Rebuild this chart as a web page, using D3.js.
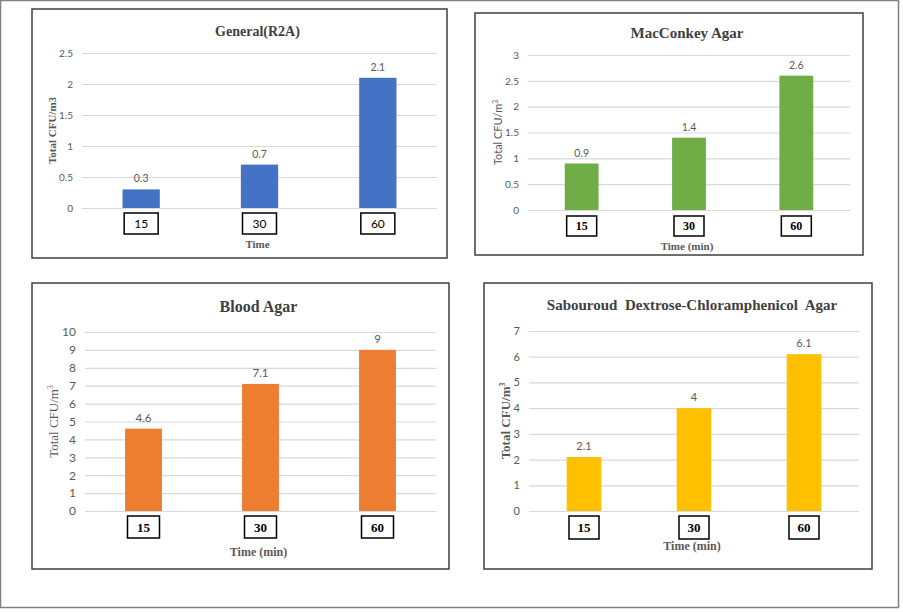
<!DOCTYPE html>
<html>
<head>
<meta charset="utf-8">
<script src="https://cdn.jsdelivr.net/npm/d3@7"></script>
<style>
  body { margin: 0; background: #fff; }
  svg { display: block; }
</style>
</head>
<body>
<div id="chart"></div>
<script>
// data
const times = ["15", "30", "60"];
const r2aValues = [0.3, 0.7, 2.1];
const macConkeyValues = [0.9, 1.4, 2.6];
const bloodValues = [4.6, 7.1, 9];
const sabouraudValues = [2.1, 4, 6.1];

const r2aTicks = [0, 0.5, 1, 1.5, 2, 2.5];
const macConkeyTicks = [0, 0.5, 1, 1.5, 2, 2.5, 3];
const bloodTicks = [0, 1, 2, 3, 4, 5, 6, 7, 8, 9, 10];
const sabouraudTicks = [0, 1, 2, 3, 4, 5, 6, 7];

const SERIF = "'Liberation Serif', 'Times New Roman', serif";
const SANS = "Lato, 'Liberation Sans', sans-serif";

const W = 903;
const H = 612;

const svg = d3
  .select("#chart")
  .append("svg")
  .attr("width", W)
  .attr("height", H);

svg
  .append("rect")
  .attr("x", 0.5)
  .attr("y", 0.5)
  .attr("width", 898)
  .attr("height", 607)
  .attr("fill", "#fff")
  .attr("stroke", "#808080")
  .attr("stroke-width", 1.5);

const panels = [
  {
    title: "General(R2A)",
    values: r2aValues,
    ticks: r2aTicks,
    color: "#4472C4",
    frame: { x: 32, y: 9, w: 415, h: 249 },
    plot: { x: 82, y: 53, w: 355, h: 155 },
    titleY: 36, titleSize: 14,
    tickSize: 10, valueSize: 10.5,
    yTitle: { text: "Total CFU/m3", sup: null, x: 56, font: SERIF, bold: true, size: 11 },
    box: { font: SANS, bold: false, size: 12, w: 34, h: 21, dy: 5 },
    xTitle: { text: "Time", y: 244, size: 11 },
  },
  {
    title: "MacConkey Agar",
    values: macConkeyValues,
    ticks: macConkeyTicks,
    color: "#70AD47",
    frame: { x: 475, y: 13, w: 388, h: 242 },
    plot: { x: 528, y: 55, w: 322, h: 155 },
    titleY: 38, titleSize: 15,
    tickSize: 10, valueSize: 10.5,
    yTitle: { text: "Total CFU/m", sup: "3", x: 502, font: SANS, bold: false, size: 11 },
    box: { font: SERIF, bold: true, size: 12, w: 30, h: 20, dy: 6 },
    xTitle: { text: "Time (min)", y: 246, size: 11 },
  },
  {
    title: "Blood Agar",
    values: bloodValues,
    ticks: bloodTicks,
    color: "#ED7D31",
    frame: { x: 32, y: 283, w: 417, h: 286 },
    plot: { x: 85, y: 332, w: 351, h: 179 },
    titleY: 312, titleSize: 16,
    tickSize: 12, valueSize: 11.5,
    yTitle: { text: "Total CFU/m", sup: "3", x: 58, font: SERIF, bold: false, size: 13 },
    box: { font: SERIF, bold: true, size: 13, w: 32, h: 22, dy: 5 },
    xTitle: { text: "Time (min)", y: 552, size: 12 },
  },
  {
    title: "Sabouroud  Dextrose-Chloramphenicol  Agar",
    values: sabouraudValues,
    ticks: sabouraudTicks,
    color: "#FFC000",
    frame: { x: 484, y: 283, w: 388, h: 286 },
    plot: { x: 529, y: 331, w: 330, h: 180 },
    titleY: 310, titleSize: 15,
    tickSize: 11, valueSize: 11,
    yTitle: { text: "Total CFU/m", sup: "3", x: 510, font: SERIF, bold: true, size: 13 },
    box: { font: SERIF, bold: true, size: 13, w: 30, h: 23, dy: 5 },
    xTitle: { text: "Time (min)", y: 546, size: 12 },
  },
];

panels.forEach(drawPanel);

function drawPanel(p) {
  const g = svg.append("g");

  g.append("rect")
    .attr("x", p.frame.x)
    .attr("y", p.frame.y)
    .attr("width", p.frame.w)
    .attr("height", p.frame.h)
    .attr("fill", "#fff")
    .attr("stroke", "#3f3f3f")
    .attr("stroke-width", 1.5);

  // title
  g.append("text")
    .attr("x", p.plot.x + p.plot.w / 2 - 2)
    .attr("y", p.titleY)
    .attr("text-anchor", "middle")
    .style("font-family", SERIF)
    .style("font-weight", "bold")
    .style("font-size", `${p.titleSize}px`)
    .style("white-space", "pre")
    .attr("fill", "#404040")
    .text(p.title);

  const x = d3
    .scaleBand()
    .domain(times)
    .range([p.plot.x, p.plot.x + p.plot.w])
    .paddingInner(0.685)
    .paddingOuter(0.3425);

  const y = d3
    .scaleLinear()
    .domain([0, d3.max(p.ticks)])
    .range([p.plot.y + p.plot.h, p.plot.y]);

  // gridlines + tick labels
  const yAxis = g
    .append("g")
    .attr("transform", `translate(${p.plot.x},0)`)
    .call(
      d3
        .axisLeft(y)
        .tickValues(p.ticks)
        .tickSize(-p.plot.w)
        .tickPadding(9)
        .tickFormat(d3.format("~g"))
    );
  yAxis.select(".domain").remove();
  yAxis.selectAll("line").attr("stroke", "#d9d9d9").attr("stroke-width", 1.2);
  yAxis
    .selectAll("text")
    .attr("fill", "#595959")
    .style("font-family", SANS)
    .style("font-size", `${p.tickSize}px`);

  // bars
  g.selectAll(".bar")
    .data(p.values)
    .join("rect")
    .attr("class", "bar")
    .attr("x", (d, i) => x(times[i]))
    .attr("y", (d) => y(d))
    .attr("width", x.bandwidth())
    .attr("height", (d) => y(0) - y(d))
    .attr("fill", p.color);

  // value labels
  g.selectAll(".val")
    .data(p.values)
    .join("text")
    .attr("class", "val")
    .attr("x", (d, i) => x(times[i]) + x.bandwidth() / 2)
    .attr("y", (d) => y(d) - 7)
    .attr("text-anchor", "middle")
    .attr("fill", "#595959")
    .style("font-family", SANS)
    .style("font-size", `${p.valueSize}px`)
    .text((d) => d3.format("~g")(d));

  // boxed category labels
  const boxes = g
    .selectAll(".cat")
    .data(times)
    .join("g")
    .attr("class", "cat")
    .attr(
      "transform",
      (d) =>
        `translate(${x(d) + x.bandwidth() / 2},${y(0) + p.box.dy + p.box.h / 2})`
    );
  boxes
    .append("rect")
    .attr("x", -p.box.w / 2)
    .attr("y", -p.box.h / 2)
    .attr("width", p.box.w)
    .attr("height", p.box.h)
    .attr("fill", "#fff")
    .attr("stroke", "#000")
    .attr("stroke-width", 1.5);
  boxes
    .append("text")
    .attr("text-anchor", "middle")
    .attr("dy", "0.35em")
    .attr("fill", "#000")
    .style("font-family", p.box.font)
    .style("font-weight", p.box.bold ? "bold" : "normal")
    .style("font-size", `${p.box.size}px`)
    .text((d) => d);

  // x title
  g.append("text")
    .attr("x", p.plot.x + p.plot.w / 2 - 2)
    .attr("y", p.xTitle.y)
    .attr("text-anchor", "middle")
    .attr("dy", "0.35em")
    .attr("fill", "#595959")
    .style("font-family", SERIF)
    .style("font-weight", "bold")
    .style("font-size", `${p.xTitle.size}px`)
    .text(p.xTitle.text);

  // y title
  const yt = g
    .append("text")
    .attr(
      "transform",
      `translate(${p.yTitle.x},${p.plot.y + p.plot.h / 2}) rotate(-90)`
    )
    .attr("text-anchor", "middle")
    .attr("fill", "#595959")
    .style("font-family", p.yTitle.font)
    .style("font-weight", p.yTitle.bold ? "bold" : "normal")
    .style("font-size", `${p.yTitle.size}px`);
  yt.append("tspan").text(p.yTitle.text);
  if (p.yTitle.sup) {
    yt.append("tspan")
      .attr("dy", -p.yTitle.size * 0.4)
      .style("font-size", `${p.yTitle.size * 0.6}px`)
      .text(p.yTitle.sup);
  }
}
</script>
</body>
</html>
